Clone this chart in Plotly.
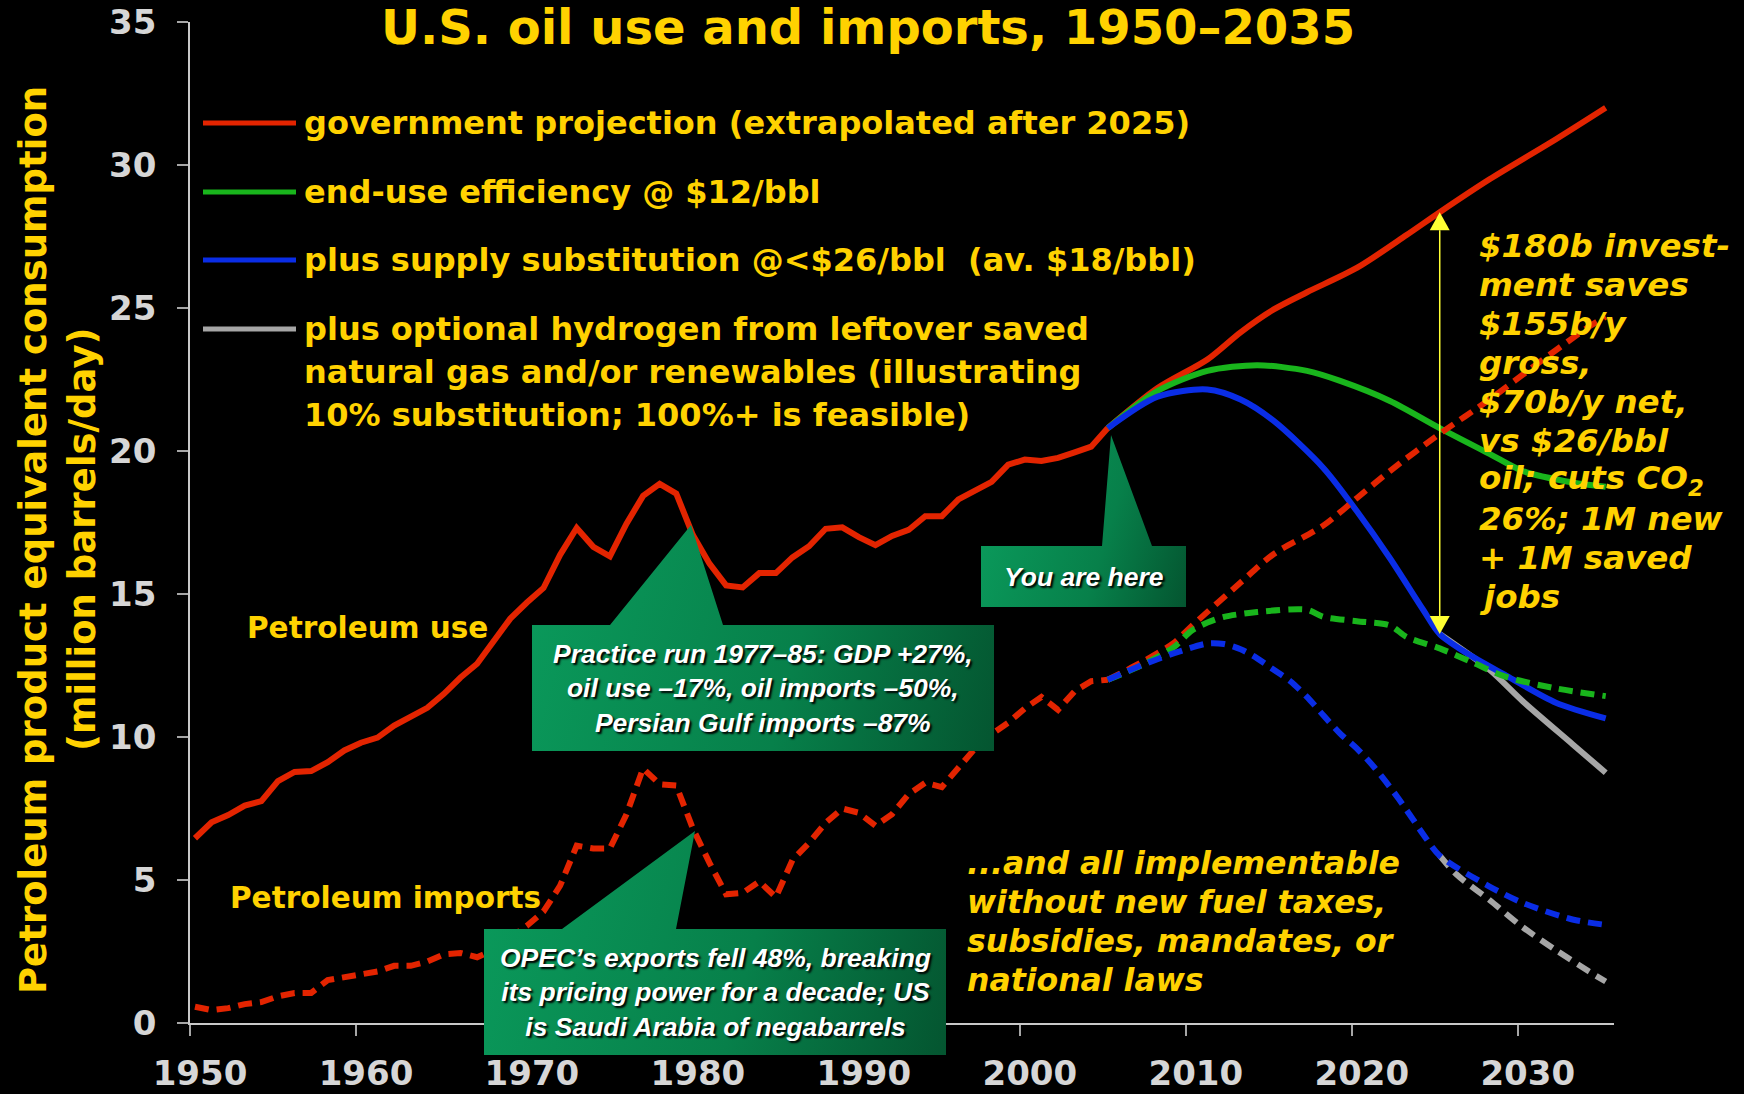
import base64
import plotly.graph_objects as go

# ---- data: million barrels/day ----
years_hist = list(range(1950, 2006))
use_hist = [6.46, 7.02, 7.27, 7.60, 7.76, 8.46, 8.78, 8.81, 9.12, 9.53,
            9.80, 9.98, 10.40, 10.74, 11.02, 11.51, 12.08, 12.56, 13.39, 14.14,
            14.70, 15.21, 16.37, 17.31, 16.65, 16.32, 17.46, 18.43, 18.85, 18.51,
            17.06, 16.06, 15.30, 15.23, 15.73, 15.73, 16.28, 16.67, 17.28, 17.33,
            16.99, 16.71, 17.03, 17.24, 17.72, 17.72, 18.31, 18.62, 18.92, 19.52,
            19.70, 19.65, 19.76, 19.95, 20.15, 20.80]
imports_hist = [0.57, 0.45, 0.52, 0.66, 0.73, 0.93, 1.05, 1.05, 1.50, 1.60,
                1.65, 1.80, 2.00, 2.00, 2.15, 2.40, 2.45, 2.30, 2.55, 2.95,
                3.40, 3.90, 4.80, 6.20, 6.10, 6.10, 7.30, 8.90, 8.35, 8.30,
                6.80, 5.60, 4.50, 4.55, 4.95, 4.40, 5.70, 6.30, 7.00, 7.50,
                7.35, 6.90, 7.30, 8.00, 8.40, 8.25, 8.90, 9.60, 10.10, 10.50,
                11.00, 11.40, 10.95, 11.60, 11.95, 12.00]

# projections, use
gov_use_years = [2005, 2008, 2011, 2013, 2015, 2017, 2020, 2023, 2025, 2028, 2032, 2035]
gov_use = [20.8, 22.2, 23.2, 24.15, 24.95, 25.55, 26.4, 27.55, 28.35, 29.5, 30.9, 32.0]
eff_use_years = [2005, 2008, 2011, 2014, 2017, 2019, 2022, 2025, 2028, 2030, 2033, 2035]
eff_use = [20.8, 22.1, 22.8, 23.0, 22.8, 22.45, 21.75, 20.8, 19.9, 19.3, 18.9, 18.75]
sub_use_years = [2005, 2008, 2011, 2013, 2015, 2018, 2020, 2022, 2024, 2025, 2027, 2029, 2032, 2035]
sub_use = [20.8, 21.9, 22.15, 21.8, 21.05, 19.4, 17.9, 16.25, 14.45, 13.6, 12.8, 12.15, 11.2, 10.65]
h2_use_years = [2025, 2028, 2030, 2033, 2035]
h2_use = [13.6, 12.35, 11.25, 9.75, 8.75]

# projections, imports
gov_imp_years = [2005, 2007, 2009, 2010, 2013, 2015, 2018, 2020, 2022, 2025, 2028, 2031, 2034, 2035]
gov_imp = [12.0, 12.6, 13.3, 13.85, 15.4, 16.4, 17.4, 18.35, 19.3, 20.6, 21.8, 23.1, 24.35, 24.7]
eff_imp_years = [2005, 2007, 2009, 2010, 2011, 2012, 2014, 2017, 2018, 2020, 2022, 2023, 2025, 2027, 2029, 2032, 2035]
eff_imp = [12.0, 12.5, 13.15, 13.7, 14.0, 14.2, 14.37, 14.45, 14.2, 14.05, 13.9, 13.5, 13.1, 12.6, 12.1, 11.7, 11.43]
sub_imp_years = [2005, 2007, 2009, 2011, 2012, 2013, 2014, 2015, 2016, 2017, 2018, 2019, 2020,
                 2021, 2022, 2023, 2024, 2025, 2028, 2030, 2033, 2035]
sub_imp = [12.0, 12.5, 12.93, 13.27, 13.25, 13.07, 12.75, 12.35, 11.95, 11.4, 10.75, 10.12, 9.6,
           8.98, 8.25, 7.45, 6.6, 5.85, 4.77, 4.2, 3.62, 3.43]
h2_imp_years = [2025, 2026, 2028, 2030, 2032, 2034, 2035]
h2_imp = [5.85, 5.2, 4.3, 3.35, 2.55, 1.8, 1.45]

x_ticks = list(range(1950, 2031, 10))

# ---- look ----
RED, GREEN, BLUE, GRAY = "#E32400", "#19B51C", "#0A2DE6", "#A6A6A6"
YELLOW = "#FFD200"
W, H = 1744, 1094
L, R, T, B = 190, 130, 22, 71
X_RANGE = [1950, 2035.8]
Y_RANGE = [0, 35]
X_SHIFT = 0.3  # points sit a bit right of the year ticks in the original


def paper(xp, yp):
    # page pixel -> paper fraction
    return (xp - L) / (W - L - R), (H - B - yp) / (H - T - B)


fig = go.Figure()


def add_line(xs, ys, color, dash="solid", shape="linear"):
    fig.add_trace(go.Scatter(
        x=[v + X_SHIFT for v in xs], y=ys, mode="lines",
        line=dict(color=color, width=6, dash=dash, shape=shape, smoothing=0.8),
        hoverinfo="skip", showlegend=False))


DASH = "14px,8px"
add_line(years_hist, use_hist, RED)
add_line(gov_use_years, gov_use, RED, shape="spline")
add_line(eff_use_years, eff_use, GREEN, shape="spline")
add_line(h2_use_years, h2_use, GRAY, shape="spline")
add_line(sub_use_years, sub_use, BLUE, shape="spline")
add_line(years_hist, imports_hist, RED, dash=DASH)
add_line(gov_imp_years, gov_imp, RED, dash=DASH, shape="spline")
add_line(eff_imp_years, eff_imp, GREEN, dash=DASH, shape="spline")
add_line(h2_imp_years, h2_imp, GRAY, dash=DASH, shape="spline")
add_line(sub_imp_years, sub_imp, BLUE, dash=DASH, shape="spline")

shapes = []
annotations = []
images = []


def callout(box, base, apex):
    # green speech box with a gradient, drawn as an svg image over the plot
    x0, y0, x1, y1 = box
    pts = [(x0, y0), (base[0], y0), apex, (base[1], y0), (x1, y0), (x1, y1), (x0, y1)]
    minx, miny = x0, min(apex[1], y0)
    w, h = x1 - x0, y1 - miny
    poly = " ".join("%.1f,%.1f" % (px - minx, py - miny) for px, py in pts)
    svg = ('<svg xmlns="http://www.w3.org/2000/svg" width="%d" height="%d" viewBox="0 0 %d %d" '
           'preserveAspectRatio="none"><defs><linearGradient id="g" gradientUnits="userSpaceOnUse" '
           'x1="0" y1="%.1f" x2="%.1f" y2="%.1f"><stop offset="0" stop-color="#0A985A"/>'
           '<stop offset="0.55" stop-color="#07804A"/><stop offset="1" stop-color="#045530"/>'
           '</linearGradient></defs><polygon points="%s" fill="url(#g)"/></svg>'
           % (w, h, w, h, y0 - miny, w, h, poly))
    src = "data:image/svg+xml;base64," + base64.b64encode(svg.encode()).decode()
    px0, py0 = paper(minx, miny)
    px1, py1 = paper(x1, y1)
    images.append(dict(source=src, xref="paper", yref="paper", x=px0, y=py0,
                       sizex=px1 - px0, sizey=py0 - py1, xanchor="left", yanchor="top",
                       sizing="stretch", layer="above"))


callout((532, 625, 994, 751), (610, 723), (691, 525))
callout((484, 929, 946, 1055), (562, 676), (695, 831))
callout((981, 546, 1186, 607), (1102, 1152), (1111, 435))

white = dict(family="Liberation Sans", size=26.5, color="white", weight="bold",
             style="italic", shadow="2px 2px 2px #000000")


def note(xp, yp, text, font, xanchor="center", yanchor="middle", align="center", angle=0):
    xx, yy = paper(xp, yp)
    annotations.append(dict(x=xx, y=yy, xref="paper", yref="paper", text=text,
                            showarrow=False, xanchor=xanchor, yanchor=yanchor,
                            align=align, font=font, textangle=angle))


note(763, 688, "Practice run 1977–85: GDP +27%,<br>oil use –17%, oil imports –50%,<br>"
     "Persian Gulf imports –87%", white)
note(715, 992, "OPEC’s exports fell 48%, breaking<br>its pricing power for a decade; US<br>"
     "is Saudi Arabia of negabarrels", white)
note(1084, 577, "You are here", white)

# legend drawn as in the slide
leg_font = dict(family="DejaVu Sans", size=32, color=YELLOW, weight="bold")
legend_rows = [
    (RED, 123, ["government projection (extrapolated after 2025)"]),
    (GREEN, 192, ["end-use efficiency @ &#36;12/bbl"]),
    (BLUE, 260, ["plus supply substitution @&lt;&#36;26/bbl &nbsp;(av. &#36;18/bbl)"]),
    (GRAY, 329, ["plus optional hydrogen from leftover saved",
                 "natural gas and/or renewables (illustrating",
                 "10% substitution; 100%+ is feasible)"]),
]
for color, yp, lines in legend_rows:
    xa, ya = paper(203, yp)
    xb, _ = paper(296, yp)
    shapes.append(dict(type="line", xref="paper", yref="paper", x0=xa, x1=xb, y0=ya, y1=ya,
                       line=dict(color=color, width=5)))
    for i, txt in enumerate(lines):
        note(302, yp + i * 43, txt, leg_font, xanchor="left")

lab_font = dict(family="DejaVu Sans", size=29.5, color=YELLOW, weight="bold")
note(367, 628, "Petroleum use", lab_font)
note(385, 898, "Petroleum imports", lab_font)

ital = dict(family="DejaVu Sans", size=32.5, color=YELLOW, weight="bold", style="italic")
right_lines = ["&#36;180b invest-", "ment saves", "&#36;155b/y", "gross,", "&#36;70b/y net,",
               "vs &#36;26/bbl", "oil; cuts CO<sub>2</sub>", "26%; 1M new", "+ 1M saved", "jobs"]
for i, txt in enumerate(right_lines):
    note(1477, 246 + i * 39, txt, ital, xanchor="left")
ital2 = dict(ital, size=31.5)
bottom_lines = ["...and all implementable", "without new fuel taxes,",
                "subsidies, mandates, or", "national laws"]
for i, txt in enumerate(bottom_lines):
    note(965, 863 + i * 39, txt, ital2, xanchor="left")

# y-axis title, two rotated lines
ytitle = dict(family="DejaVu Sans", size=37, color=YELLOW, weight="bold")
note(33, 540, "Petroleum product equivalent consumption", ytitle, angle=-90)
note(82, 540, "(million barrels/day)", ytitle, angle=-90)

# double arrow between government projection and substitution case in 2025
ax = 2025 + X_SHIFT
top = gov_use[gov_use_years.index(2025)]
bot = sub_use[sub_use_years.index(2025)]
axp = (ax - X_RANGE[0]) / (X_RANGE[1] - X_RANGE[0])
tp, bp = top / Y_RANGE[1], bot / Y_RANGE[1]
dy = 18 / (H - T - B)
dx = 10 / (W - L - R)
shapes.append(dict(type="line", xref="paper", yref="paper", x0=axp, x1=axp, y0=tp - dy, y1=bp + dy,
                   line=dict(color="#FFFF33", width=1.5), layer="above"))
for tip, base in ((tp, tp - dy), (bp, bp + dy)):
    shapes.append(dict(type="path", xref="paper", yref="paper", fillcolor="#FFFF33",
                       line=dict(width=0), layer="above",
                       path="M %.5f,%.5f L %.5f,%.5f L %.5f,%.5f Z"
                            % (axp, tip, axp - dx, base, axp + dx, base)))

tick_font = dict(family="DejaVu Sans", size=34, color="#D6D6D6", weight="bold")
axis_style = dict(ticks="outside", ticklen=11, tickwidth=1.5, tickcolor="#A6A6A6",
                  showline=True, linecolor="#C8C8C8", linewidth=1.5, showgrid=False,
                  zeroline=False, tickfont=tick_font, automargin=False)
fig.update_layout(
    template="none",
    width=W, height=H, margin=dict(l=L, r=R, t=T, b=B),
    paper_bgcolor="black", plot_bgcolor="black", showlegend=False,
    title=dict(text="U.S. oil use and imports, 1950–2035", xref="container", yref="container",
               x=868 / W, xanchor="center", y=1 - 10 / H, yanchor="top",
               font=dict(family="DejaVu Sans", size=48, color=YELLOW, weight="bold")),
    xaxis=dict(range=X_RANGE, tickvals=x_ticks, ticklabelshift=10, ticklabelstandoff=8,
               **axis_style),
    yaxis=dict(range=Y_RANGE, dtick=5, ticklabelstandoff=14, **axis_style),
    shapes=shapes, annotations=annotations, images=images,
)

fig.write_html("out.html", config={"displayModeBar": False},
               post_script="document.body.style.margin='0px';document.body.style.overflow='hidden';")
